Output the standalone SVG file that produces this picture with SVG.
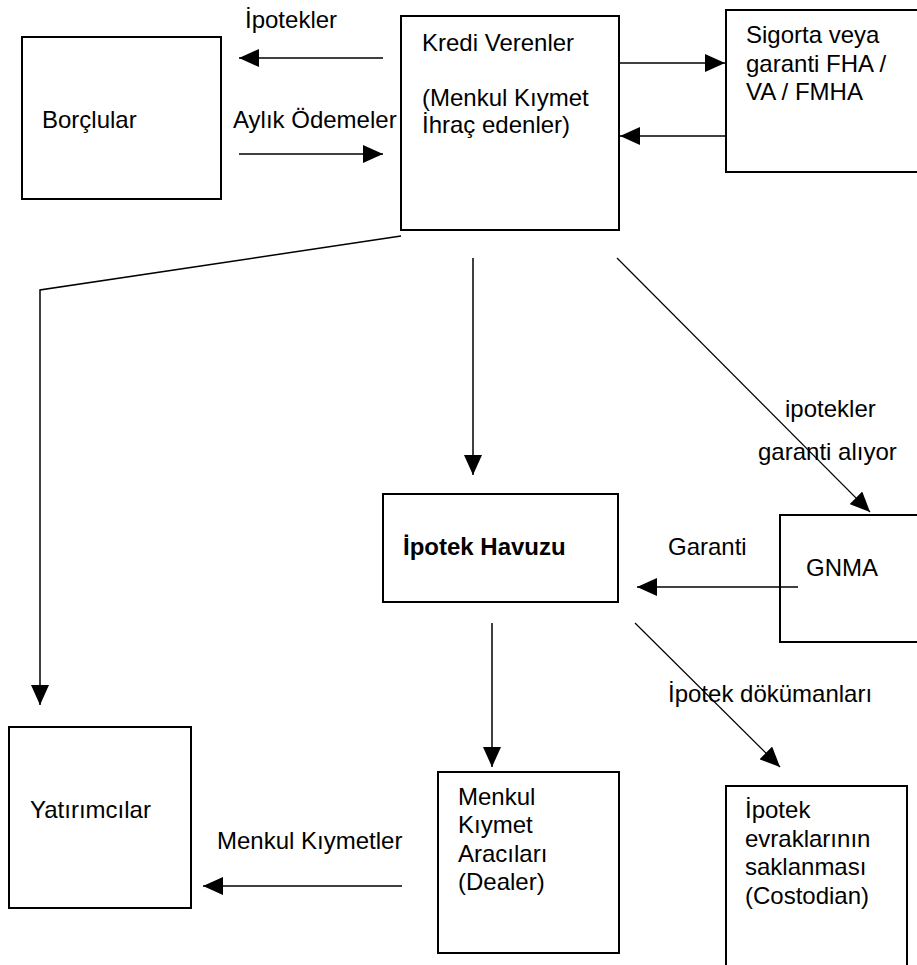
<svg xmlns="http://www.w3.org/2000/svg" width="917" height="965" viewBox="0 0 917 965">
<style>
.box{fill:#fff;stroke:#000;stroke-width:2}
.t{font-family:"Liberation Sans",Arial,sans-serif;font-size:24px;fill:#000}
.b{font-weight:bold}
.c{fill:none;stroke:#000;stroke-width:1.5}
.d{fill:none;stroke:#000;stroke-width:1.2}
</style>
<defs>
<marker id="ah" markerUnits="userSpaceOnUse" markerWidth="20" markerHeight="18" refX="20" refY="9" orient="auto" viewBox="0 0 20 18">
<path d="M0,0 L20,9 L0,18 Z" fill="#000"/>
</marker>
</defs>
<rect width="917" height="965" fill="#fff"/>
<g id="borclular"><rect class="box" x="22" y="37" width="199" height="162"/><text class="t" x="42" y="128">Borçlular</text></g>
<g id="kredi"><rect class="box" x="401" y="16" width="218" height="214"/>
<text class="t" x="422" y="51">Kredi Verenler</text>
<text class="t" x="422" y="106">(Menkul Kıymet</text>
<text class="t" x="422" y="133">İhraç edenler)</text></g>
<g id="sigorta"><rect class="box" x="726" y="10" width="200" height="162"/>
<text class="t" x="746" y="43">Sigorta veya</text>
<text class="t" x="746" y="72">garanti FHA /</text>
<text class="t" x="746" y="100">VA / FMHA</text></g>
<g id="havuz"><rect class="box" x="383" y="494" width="235" height="108"/><text class="t b" x="403" y="555">İpotek Havuzu</text></g>
<g id="gnma"><rect class="box" x="780" y="515" width="150" height="127"/><text class="t" x="806" y="576">GNMA</text></g>
<g id="yatirimcilar"><rect class="box" x="9" y="727" width="182" height="181"/><text class="t" x="30" y="818">Yatırımcılar</text></g>
<g id="dealer"><rect class="box" x="438" y="772" width="181" height="181"/>
<text class="t" x="458" y="805">Menkul</text>
<text class="t" x="458" y="833">Kıymet</text>
<text class="t" x="458" y="862">Aracıları</text>
<text class="t" x="458" y="890">(Dealer)</text></g>
<g id="custodian"><rect class="box" x="726" y="786" width="181" height="200"/>
<text class="t" x="745" y="818">İpotek</text>
<text class="t" x="745" y="847">evraklarının</text>
<text class="t" x="745" y="875">saklanması</text>
<text class="t" x="745" y="904">(Costodian)</text></g>
<g id="connectors">
<line class="c" x1="383" y1="58" x2="239" y2="58" marker-end="url(#ah)"/>
<line class="c" x1="239" y1="154" x2="383" y2="154" marker-end="url(#ah)"/>
<line class="c" x1="619" y1="63" x2="725" y2="63" marker-end="url(#ah)"/>
<line class="c" x1="726" y1="136" x2="620" y2="136" marker-end="url(#ah)"/>
<polyline class="c" points="401,236 40,290 40,705" marker-end="url(#ah)"/>
<line class="c" x1="473" y1="258" x2="473" y2="475" marker-end="url(#ah)"/>
<line class="d" x1="617" y1="258" x2="870" y2="512" marker-end="url(#ah)"/>
<line class="c" x1="798" y1="587" x2="637" y2="587" marker-end="url(#ah)"/>
<line class="c" x1="492" y1="623" x2="492" y2="767" marker-end="url(#ah)"/>
<line class="d" x1="635" y1="623" x2="780" y2="767" marker-end="url(#ah)"/>
<line class="c" x1="402" y1="886" x2="203" y2="886" marker-end="url(#ah)"/>
<text class="t" x="245" y="28">İpotekler</text>
<text class="t" x="233" y="128">Aylık Ödemeler</text>
<text class="t" x="785" y="417">ipotekler</text>
<text class="t" x="758" y="460">garanti alıyor</text>
<text class="t" x="668" y="555">Garanti</text>
<text class="t" x="668" y="702">İpotek dökümanları</text>
<text class="t" x="217" y="849">Menkul Kıymetler</text>
</g>
</svg>
